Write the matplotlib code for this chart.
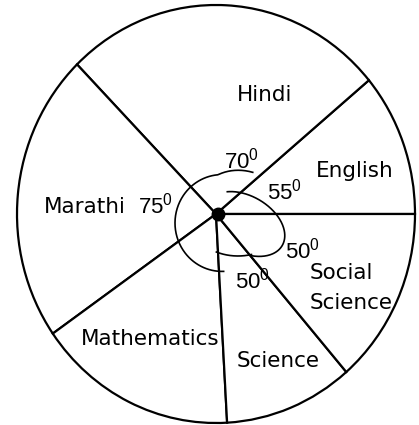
import numpy as np
import matplotlib
matplotlib.use("Agg")
import matplotlib.pyplot as plt

plt.rcParams["mathtext.fontset"] = "custom"
plt.rcParams["mathtext.rm"] = "Liberation Sans"
plt.rcParams["mathtext.it"] = "Liberation Sans:italic"

# subjects, counter-clockwise from the horizontal line on the right
subjects = ["English", "Hindi", "Marathi", "Mathematics", "Science", "Social Science"]
# sector sizes as drawn in the picture (degrees)
drawn_sizes = [39.8, 94.5, 80.6, 58.3, 37.7, 49.1]
# angle marks written on the chart
angle_labels = ["55", "70", "75", "50", "50"]

W, H = 419, 425
fig = plt.figure(figsize=(W / 100, H / 100), dpi=100)
fig.patch.set_facecolor("white")

# pie axes, circle spans x 17..415 and y 5..423 px
ax = fig.add_axes([17 / W, 2 / H, 398 / W, 418 / H])
ax.pie(drawn_sizes, startangle=0, counterclock=True,
       colors=["white"] * len(drawn_sizes),
       wedgeprops=dict(edgecolor="black", linewidth=1.6, clip_on=False))
ax.set_xlim(-1, 1)
ax.set_ylim(-1, 1)
ax.set_aspect("auto")
ax.axis("off")

# overlay in pixel coords (y down) for text and angle arcs
ov = fig.add_axes([0, 0, 1, 1])
ov.set_xlim(0, W)
ov.set_ylim(H, 0)
ov.axis("off")
ov.patch.set_alpha(0)


def ellipse_pts(cx, cy, a, b, tilt, t0, t1):
    t = np.radians(np.linspace(t0, t1, 200))
    al = np.radians(tilt)
    m = np.array([np.cos(al), np.sin(al)])
    n = np.array([np.sin(al), -np.cos(al)])
    x = cx + a * np.cos(t) * m[0] + b * np.sin(t) * n[0]
    y = cy + a * np.cos(t) * m[1] + b * np.sin(t) * n[1]
    return x, y


# outer arc (Hindi / Marathi), slightly spiral at its start
th = np.linspace(58, 272, 300)
r = 47 + 11 * np.clip((95 - th) / 37, 0, 1)
ov.plot(222 + r * np.cos(np.radians(th)),
        223 - r * 1.03 * np.sin(np.radians(th)), color="black", lw=1.2)

# inner arc (English / Social Science / Science)
x1, y1 = ellipse_pts(245, 224, 43, 28, 30, -60, 137)
ov.plot(x1, y1, color="black", lw=1.2)
x2, y2 = ellipse_pts(238, 222, 46, 34, 0, -118, -73)
ov.plot(x2, y2, color="black", lw=1.2)

# centre dot
ov.plot(218, 214, "o", ms=9, color="black")

fs = 15.5
font = dict(fontsize=fs, family="DejaVu Sans", color="black", va="baseline")

ov.text(265, 101, "Hindi", ha="center", **font)
ov.text(355, 177, "English", ha="center", **font)
ov.text(85, 213, "Marathi", ha="center", **font)
ov.text(310, 279, "Social", ha="left", **font)
ov.text(310, 309, "Science", ha="left", **font)
ov.text(150, 345, "Mathematics", ha="center", **font)
ov.text(278, 367, "Science", ha="center", **font)

deg_pos = [(267, 199), (224, 168), (138, 213), (285, 258), (235, 289)]
for lab, (x, y) in zip(angle_labels, deg_pos):
    ov.text(x, y, lab + r"$^{\mathrm{0}}$", ha="left", va="baseline",
            fontsize=16, family="Liberation Sans", color="black")

fig.savefig("out.png", dpi=100, facecolor="white")
